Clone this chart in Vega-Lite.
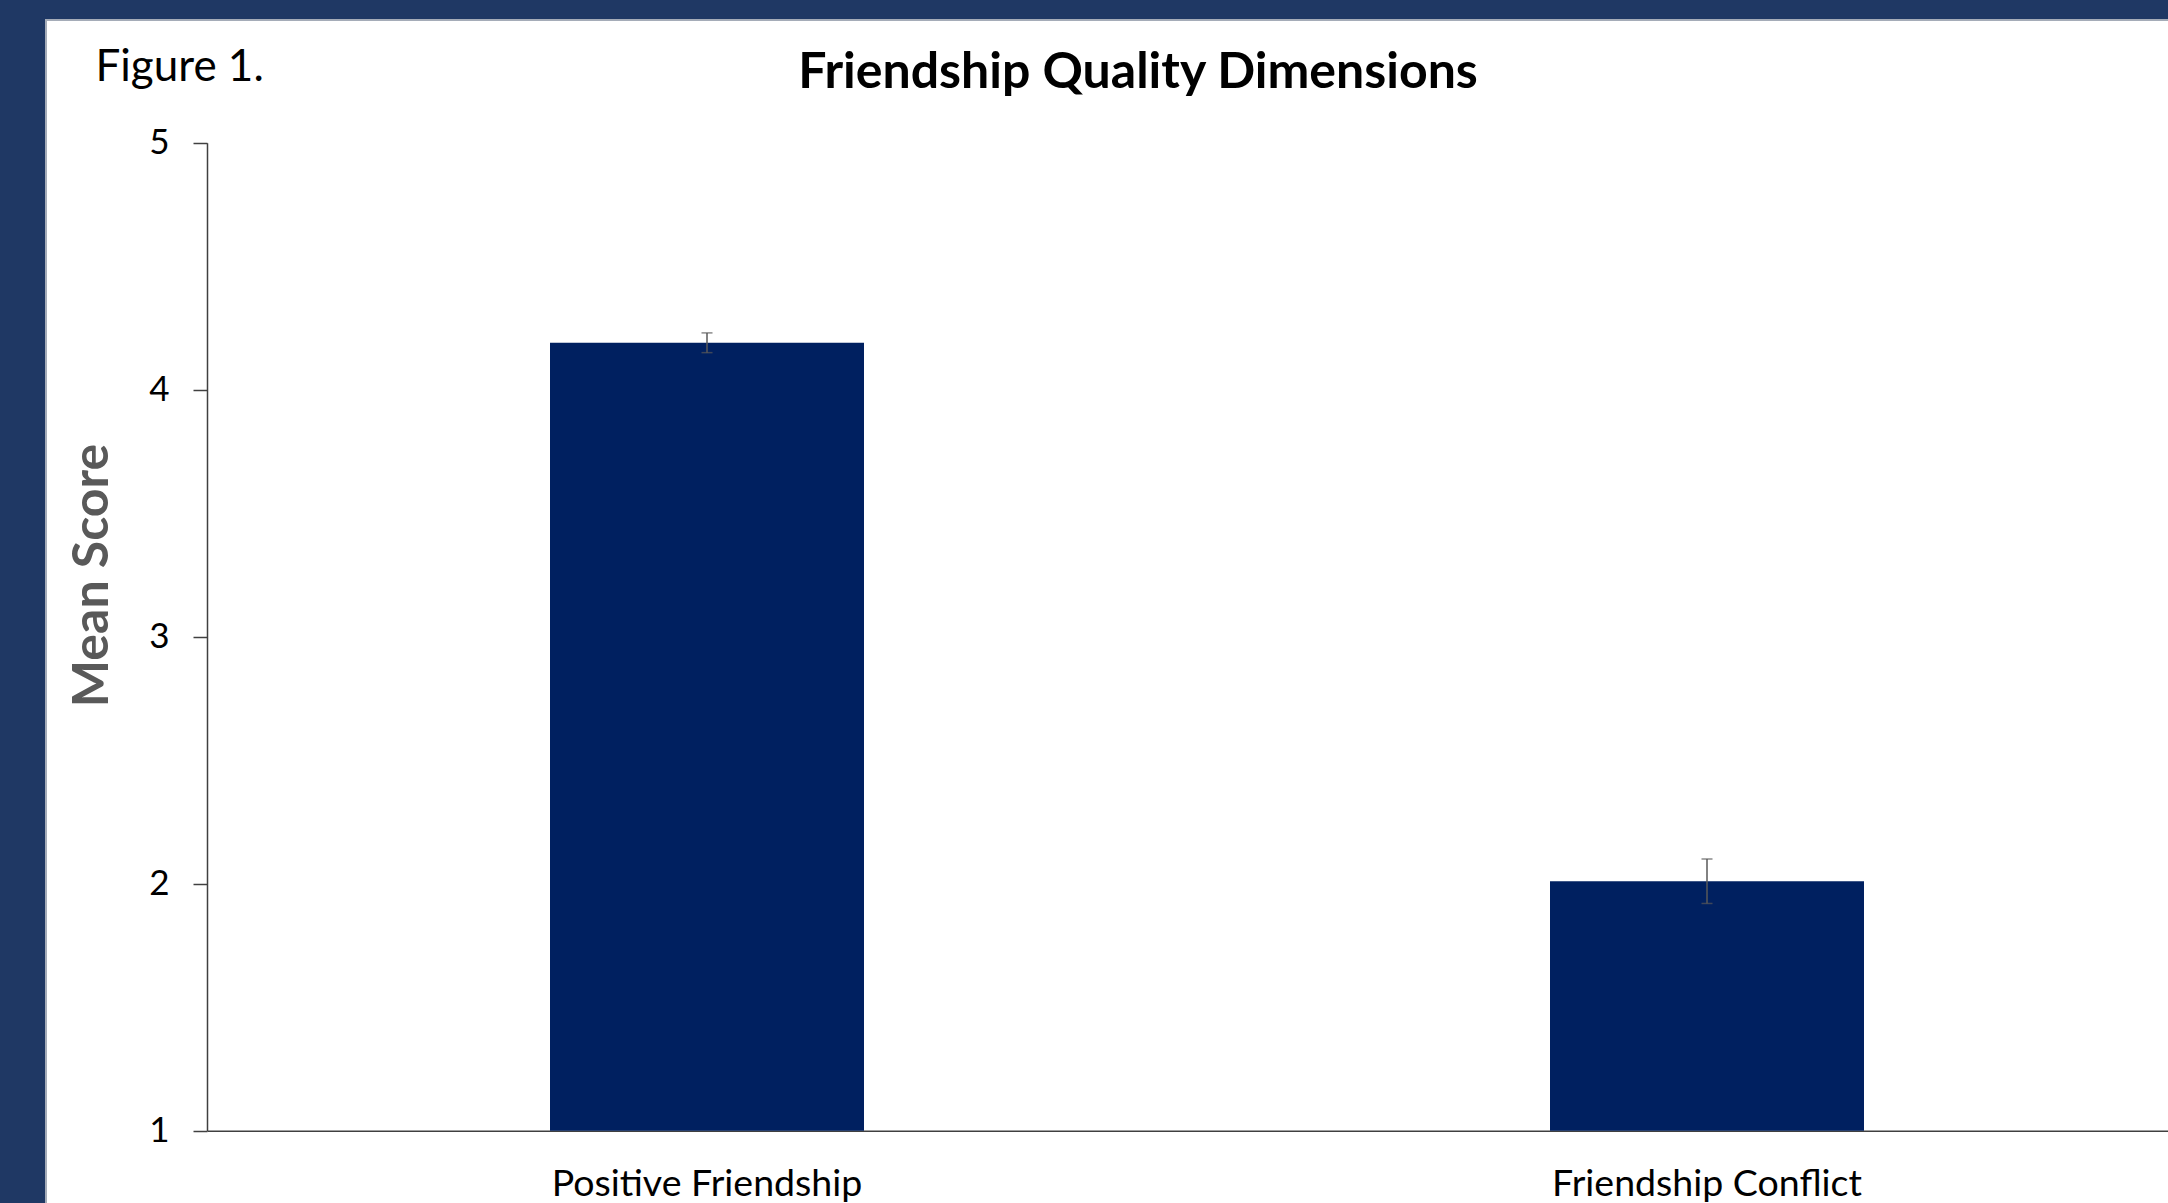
{
  "$schema": "https://vega.github.io/schema/vega-lite/v6.json",
  "width": 2130,
  "height": 1190,
  "autosize": {"type": "none"},
  "padding": {"left": 46, "top": 20, "right": 0, "bottom": 0},
  "background": "#1F3864",
  "config": {
    "font": "Lato",
    "view": {"fill": "white", "stroke": "#A5ACB8", "strokeWidth": 2}
  },
  "title": {
    "text": "Friendship Quality Dimensions",
    "anchor": "middle",
    "fontSize": 50,
    "fontWeight": "bold",
    "color": "black",
    "offset": 0,
    "baseline": "alphabetic",
    "dx": 27,
    "dy": 118
  },
  "data": {
    "values": [
      {"dimension": "Positive Friendship", "mean": 4.19, "se": 0.04},
      {"dimension": "Friendship Conflict", "mean": 2.01, "se": 0.09}
    ]
  },
  "encoding": {
    "x": {
      "field": "dimension",
      "type": "nominal",
      "sort": null,
      "scale": {"range": [161, 2161], "paddingInner": 0, "paddingOuter": 0},
      "axis": {
        "orient": "bottom",
        "offset": -79.3,
        "domainColor": "#404040",
        "domainWidth": 1.5,
        "ticks": false,
        "labelAngle": 0,
        "labelFontSize": 37.5,
        "labelColor": "black",
        "labelPadding": 35,
        "labelBaseline": "top",
        "labelLimit": 0,
        "title": "Figure 1.",
        "titleX": 49,
        "titleY": -1050.7,
        "titleAlign": "left",
        "titleBaseline": "alphabetic",
        "titleAngle": 0,
        "titleFontSize": 44,
        "titleFontWeight": "normal",
        "titleColor": "black"
      }
    },
    "y": {
      "field": "mean",
      "type": "quantitative",
      "scale": {"domain": [1, 5], "range": [1110.7, 122.7], "nice": false, "zero": false},
      "axis": {
        "orient": "left",
        "offset": -161,
        "values": [1, 2, 3, 4, 5],
        "grid": false,
        "domainColor": "#404040",
        "domainWidth": 1.5,
        "tickColor": "#404040",
        "tickWidth": 1.5,
        "tickSize": 14,
        "labelFontSize": 35,
        "labelColor": "black",
        "labelPadding": 24,
        "title": "Mean Score",
        "titleX": -115,
        "titleY": 555,
        "titleAngle": 270,
        "titleAlign": "center",
        "titleBaseline": "middle",
        "titleFontSize": 50,
        "titleFontWeight": "bold",
        "titleColor": "#595959"
      }
    }
  },
  "layer": [
    {
      "mark": {"type": "bar", "color": "#002060", "width": {"band": 0.314}},
      "encoding": {"y2": {"datum": 1}}
    },
    {
      "mark": {"type": "errorbar", "ticks": {"size": 11, "color": "#595959", "thickness": 1.5}, "rule": {"color": "#595959", "strokeWidth": 1.5}},
      "encoding": {"yError": {"field": "se"}}
    }
  ]
}
